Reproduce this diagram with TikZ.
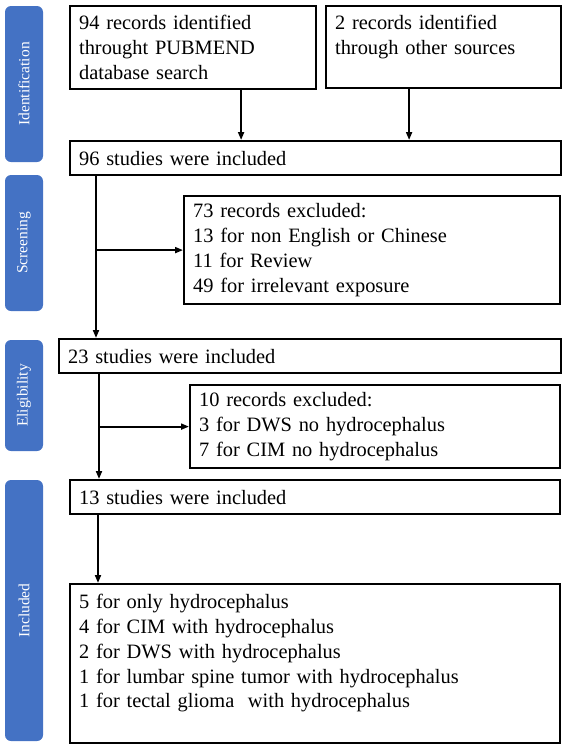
\documentclass[tikz,border=0pt]{standalone}
\usepackage{fontspec}
\setmainfont{Liberation Serif}
\usetikzlibrary{arrows.meta,positioning}
\definecolor{phaseblue}{HTML}{4472C4}
\tikzset{
  box/.style = {draw=black, line width=2.2pt, anchor=north west, align=left,
    inner xsep=9pt, inner ysep=0pt,
    font=\fontsize{20.4}{24.75}\selectfont},% boite de texte
  stage/.style = {fill=phaseblue, text=white, rounded corners=6pt, rotate=90,
    minimum height=38pt, inner sep=0pt,
    font=\fontsize{15.5}{18}\selectfont},% bande de phase
  arr/.style = {line width=1.9pt, -{Triangle[length=8pt,width=6pt]}}% fleche
}

\begin{document}
\begin{tikzpicture}[x=1pt,y=-1pt]
\useasboundingbox (0,0) rectangle (566,747);
% phases
\node [stage, minimum width=156pt] (id)  at (24,84)    {Identification};
\node [stage, minimum width=136pt] (scr) at (24,243)   {Screening};
\node [stage, minimum width=111pt] (eli) at (24,395.5) {Eligibility};
\node [stage, minimum width=261pt] (inc) at (24,610.5) {Included};
% boites
\node [box, text width=228pt, minimum height=83pt] (pub) at (69,5)
    {94 records identified\\ throught PUBMEND\\ database search};
\node [box, text width=217pt, minimum height=82pt] (oth) at (325,5)
    {2 records identified\\ through other sources\\ \mbox{}};
\node [box, text width=473pt, minimum height=34pt] (s96) at (69,140)
    {96 studies were included};
\node [box, text width=358pt, minimum height=108pt] (ex73) at (183,195)
    {73 records excluded:\\ 13 for non English or Chinese\\ 11 for Review\\
     49 for irrelevant exposure};
\node [box, text width=484pt, minimum height=34pt] (s23) at (58,338)
    {23 studies were included};
\node [box, text width=352pt, minimum height=83pt] (ex10) at (189,384)
    {10 records excluded:\\ 3 for DWS no hydrocephalus\\
     7 for CIM no hydrocephalus};
\node [box, text width=472pt, minimum height=34pt] (s13) at (69,479)
    {13 studies were included};
\node [box, text width=472pt, minimum height=159pt] (fin) at (69,583)
    {5 for only hydrocephalus\\ 4 for CIM with hydrocephalus\\
     2 for DWS with hydrocephalus\\
     1 for lumbar spine tumor with hydrocephalus\\
     1 for tectal glioma~ with hydrocephalus\\ \mbox{}};
% fleches
\draw [arr] ([xshift=48pt]pub.south) -- ([xshift=48pt]pub.south |- s96.north);
\draw [arr] ([xshift=-34.5pt]oth.south) -- ([xshift=-34.5pt]oth.south |- s96.north);
\draw [arr] ([xshift=27pt]s96.south west) -- ([xshift=27pt]s96.south west |- s23.north);
\draw [arr] ([xshift=27pt]s96.south west |- ex73.west) -- (ex73.west);
\draw [arr] ([xshift=41pt]s23.south west) -- ([xshift=41pt]s23.south west |- s13.north);
\draw [arr] ([xshift=41pt]s23.south west |- ex10.west) -- (ex10.west);
\draw [arr] ([xshift=29pt]s13.south west) -- ([xshift=29pt]s13.south west |- fin.north);
\end{tikzpicture}
\end{document}
